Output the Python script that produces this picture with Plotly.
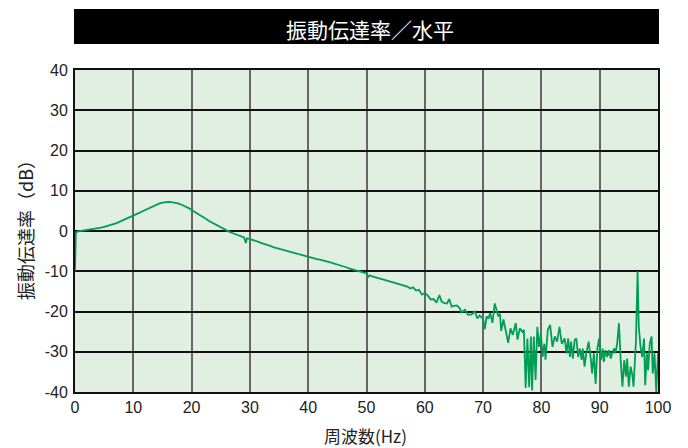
import plotly.graph_objects as go

freq = [
    0.0, 0.15, 0.5, 1.0, 1.5, 2.0, 2.5, 3.0, 3.5, 4.0, 4.5, 5.0, 5.5, 6.0, 6.5, 7.0, 7.5, 8.0, 8.5, 9.0, 9.5,
    10.0, 10.5, 11.0, 11.5, 12.0, 12.5, 13.0, 13.5, 14.0, 14.5, 15.0, 15.5, 16.0, 16.5, 17.0, 17.5, 18.0, 18.5,
    19.0, 19.5, 20.0, 20.5, 21.0, 21.5, 22.0, 22.5, 23.0, 23.5, 24.0, 24.5, 25.0, 25.5, 26.0, 26.5, 27.0, 27.5,
    28.0, 28.5, 29.0, 29.3, 29.5, 30.0, 30.5, 31.0, 31.5, 32.0, 32.5, 33.0, 33.5, 34.0, 34.5, 35.0, 35.5, 36.0,
    36.5, 37.0, 37.5, 38.0, 38.5, 39.0, 39.5, 40.0, 40.5, 41.0, 41.5, 42.0, 42.5, 43.0, 43.5, 44.0, 44.5, 45.0,
    45.5, 46.0, 46.5, 47.0, 47.5, 48.0, 48.5, 49.0, 49.5, 50.0, 50.3, 50.6, 51.0, 51.5, 52.0, 52.5, 53.0, 53.5,
    54.0, 54.5, 55.0, 55.5, 56.0, 56.5, 57.0, 57.5, 58.0, 58.5, 59.0, 59.5, 60.0, 60.5, 61.0, 61.5, 62.0, 62.5,
    62.9, 63.4, 63.8, 64.2, 64.6, 65.0, 65.5, 66.0, 66.3, 66.9, 67.4, 68.0, 68.6, 69.0, 69.4,
    70.0, 70.3, 70.6, 70.9, 71.2, 71.6, 72.0, 72.3, 72.6, 72.9, 73.1, 73.5, 73.9, 74.3, 74.7, 75.1, 75.6, 75.9,
    76.3, 76.7, 77.0, 77.3, 77.6, 77.9, 78.2, 78.4, 78.7, 79.0, 79.3, 79.6, 79.9, 80.2, 80.5, 80.7, 81.1, 81.5,
    81.9, 82.3, 82.7, 83.1, 83.5, 84.0, 84.3, 84.6, 84.9, 85.1, 85.4, 85.7, 86.0, 86.3, 86.6, 86.9, 87.1, 87.4,
    87.7, 88.1, 88.5, 88.7, 89.0, 89.3, 89.6, 89.9, 90.2, 90.5, 90.7, 91.0, 91.3, 91.6, 91.9, 92.2, 92.5, 92.7,
    93.0, 93.3, 93.6, 93.9, 94.2, 94.5, 94.7, 95.0, 95.3, 95.6, 95.8, 96.2, 96.5, 96.7, 97.0, 97.3, 97.6, 97.8,
    98.1, 98.3, 98.6, 98.9, 99.1, 99.4, 99.7, 100.0,
]

transmissibility_db = [
    -10.0, -0.4, -0.1, 0.0, 0.1, 0.2, 0.3, 0.4, 0.55, 0.7, 0.85, 1.0, 1.2, 1.4, 1.65, 1.9, 2.2, 2.5, 2.85, 3.2, 3.55,
    3.9, 4.2, 4.5, 4.85, 5.2, 5.55, 5.9, 6.3, 6.6, 6.85, 7.05, 7.2, 7.25, 7.2, 7.1, 6.9, 6.7, 6.4,
    6.1, 5.7, 5.2, 4.8, 4.3, 3.9, 3.4, 3.0, 2.5, 2.1, 1.7, 1.2, 0.8, 0.4, 0.1, -0.2, -0.5, -0.8,
    -1.1, -1.4, -1.6, -3.0, -1.8, -2.0, -2.2, -2.5, -2.7, -3.0, -3.2, -3.5, -3.7, -4.0, -4.2, -4.5, -4.7, -4.9,
    -5.1, -5.3, -5.5, -5.7, -5.9, -6.1, -6.3, -6.4, -6.6, -6.8, -7.0, -7.1, -7.4, -7.5, -7.7, -7.9, -8.1, -8.3,
    -8.5, -8.8, -9.0, -9.3, -9.5, -9.7, -9.9, -10.2, -10.3, -10.5, -11.4, -11.0, -11.3, -11.6, -11.7, -11.9, -12.1, -12.3,
    -12.5, -12.8, -13.0, -13.2, -13.3, -13.5, -13.8, -14.3, -14.0, -14.8, -14.6, -15.8, -15.4, -16.0, -17.0, -16.9, -17.8, -15.9,
    -17.6, -17.9, -18.0, -16.9, -18.8, -18.6, -18.5, -19.2, -20.2, -19.6, -20.8, -20.8, -20.0, -21.7, -21.0,
    -21.8, -24.4, -21.2, -21.8, -20.4, -22.8, -18.0, -19.6, -21.2, -20.6, -24.8, -22.0, -25.2, -27.8, -24.2, -25.8, -22.9, -27.0,
    -24.2, -25.0, -24.6, -39.0, -26.7, -38.8, -26.2, -39.6, -26.2, -37.0, -23.8, -28.8, -25.4, -31.3, -28.0, -32.0, -24.6, -23.3,
    -28.8, -26.2, -27.5, -23.8, -28.0, -26.7, -30.4, -26.7, -31.3, -27.5, -31.7, -27.1, -26.7, -31.3, -29.2, -32.0, -29.2, -33.7,
    -30.4, -27.5, -32.1, -35.4, -30.4, -38.0, -29.2, -26.7, -32.1, -29.2, -32.5, -29.6, -31.3, -29.6, -31.7, -30.0, -29.2, -30.4,
    -27.9, -22.9, -32.1, -38.7, -32.1, -36.2, -31.7, -38.7, -33.7, -35.8, -38.7, -27.9, -10.0, -23.7, -28.7, -31.3, -26.7, -38.3,
    -30.4, -34.6, -27.9, -26.2, -35.4, -30.4, -40.0, -30.4,
]

x_ticks = [0, 10, 20, 30, 40, 50, 60, 70, 80, 90, 100]
y_ticks = [-40, -30, -20, -10, 0, 10, 20, 30, 40]

title_text = "振動伝達率／水平"
x_title = "周波数(Hz)"
y_title = "振動伝達率（dB）"

FONT = "Liberation Sans, Arial, Noto Sans CJK JP, sans-serif"
CJK = "Noto Sans CJK JP, Liberation Sans, sans-serif"

fig = go.Figure()
fig.add_trace(go.Scatter(
    x=freq, y=transmissibility_db, mode="lines",
    line=dict(color="#009e55", width=1.8),
    showlegend=False, hoverinfo="skip",
))

fig.update_layout(
    width=680, height=440,
    margin=dict(l=67, r=30, t=62, b=56, autoexpand=False),
    paper_bgcolor="white",
    plot_bgcolor="#e1efe2",
    font=dict(family=FONT, size=16, color="#222222"),
    showlegend=False,
)

fig.update_xaxes(
    range=[0, 100], tickvals=x_ticks, ticktext=[str(v) for v in x_ticks],
    showgrid=True, gridcolor="#666666", gridwidth=1.8,
    showline=True, linecolor="#111111", linewidth=2, mirror=True,
    zeroline=False, ticks="", ticklen=0, automargin=False,
    tickfont=dict(family=FONT, size=16, color="#222222"),
)
fig.update_yaxes(
    range=[-40, 40], tickvals=y_ticks, ticktext=[str(v) for v in y_ticks],
    showgrid=True, gridcolor="#111111", gridwidth=1.5,
    showline=True, linecolor="#111111", linewidth=2, mirror=True,
    zeroline=False, ticks="", ticklen=0, automargin=False,
    tickfont=dict(family=FONT, size=16, color="#222222"),
    ticklabelstandoff=2,
)

# axis titles as annotations for exact placement
fig.add_annotation(
    text=x_title, xref="paper", yref="paper", x=0.4983, y=-0.134,
    showarrow=False, xanchor="center", yanchor="middle", borderpad=0,
    font=dict(family=CJK, size=17, color="#222222"),
)
fig.add_annotation(
    text=y_title, xref="paper", yref="paper", x=-0.0858, y=0.5186,
    showarrow=False, xanchor="center", yanchor="middle", textangle=-90,
    font=dict(family=CJK, size=18, color="#222222"),
)

fig.add_shape(
    type="rect", xref="paper", yref="paper",
    x0=-0.0017, x1=1.0017, y0=1.0807, y1=1.1894,
    fillcolor="black", line=dict(width=0), layer="above",
)
fig.add_annotation(
    text=title_text, xref="paper", yref="paper", x=0.506, y=1.128,
    showarrow=False, xanchor="center", yanchor="middle",
    font=dict(family=CJK, size=21, color="white"),
)

fig.write_html("out.html")
